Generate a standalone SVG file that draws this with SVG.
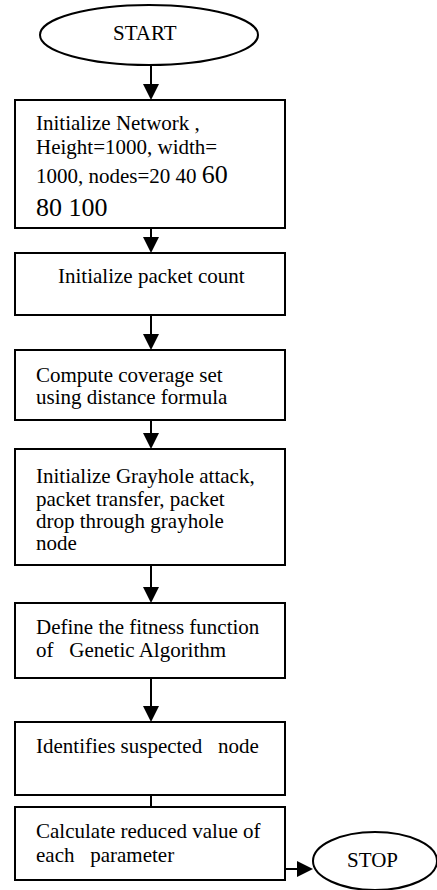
<svg xmlns="http://www.w3.org/2000/svg" width="437" height="890" viewBox="0 0 437 890">
<style>
.shape{fill:#fff;stroke:#000;stroke-width:2}
.edge{fill:none;stroke:#000;stroke-width:2}
text{font-family:"Liberation Serif","Times New Roman",serif;font-size:21px;fill:#000}
.big{font-size:26px}
</style>
<defs>
<marker id="arr" markerUnits="userSpaceOnUse" markerWidth="16" markerHeight="16" refX="14" refY="8" orient="auto">
<path d="M0,0 L16,8 L0,16 Z" fill="#000"/>
</marker>
</defs>
<rect width="437" height="890" fill="#fff"/>
<g id="connectors">
<line class="edge" x1="151" y1="65" x2="151" y2="98" marker-end="url(#arr)"/>
<line class="edge" x1="151" y1="228" x2="151" y2="251" marker-end="url(#arr)"/>
<line class="edge" x1="151" y1="315" x2="151" y2="348" marker-end="url(#arr)"/>
<line class="edge" x1="151" y1="420" x2="151" y2="447" marker-end="url(#arr)"/>
<line class="edge" x1="151" y1="565" x2="151" y2="601" marker-end="url(#arr)"/>
<line class="edge" x1="151" y1="678" x2="151" y2="720" marker-end="url(#arr)"/>
<line class="edge" x1="151" y1="795" x2="151" y2="807"/>
<line class="edge" x1="285" y1="869" x2="311" y2="869" marker-end="url(#arr)"/>
</g>
<g id="start">
<ellipse class="shape" cx="149" cy="35" rx="109" ry="30"/>
<text x="113" y="40">START</text>
</g>
<g id="init-network">
<rect class="shape" x="15" y="100" width="270" height="128"/>
<text x="36" y="130">Initialize Network ,</text>
<text x="36" y="154">Height=1000, width=</text>
<text x="36" y="183" xml:space="preserve">1000, nodes=20 40 <tspan class="big">60</tspan></text>
<text x="36" y="216" class="big">80 100</text>
</g>
<g id="init-packet">
<rect class="shape" x="15" y="253" width="270" height="62"/>
<text x="58" y="283">Initialize packet count</text>
</g>
<g id="coverage">
<rect class="shape" x="15" y="350" width="270" height="70"/>
<text x="36" y="382">Compute coverage set</text>
<text x="36" y="404">using distance formula</text>
</g>
<g id="grayhole">
<rect class="shape" x="15" y="449" width="270" height="116"/>
<text x="36" y="483">Initialize Grayhole attack,</text>
<text x="36" y="506">packet transfer, packet</text>
<text x="36" y="528">drop through grayhole</text>
<text x="36" y="550">node</text>
</g>
<g id="fitness">
<rect class="shape" x="15" y="603" width="270" height="75"/>
<text x="36" y="634">Define the fitness function</text>
<text x="36" y="657" xml:space="preserve">of   Genetic Algorithm</text>
</g>
<g id="identify">
<rect class="shape" x="15" y="722" width="270" height="73"/>
<text x="36" y="753" xml:space="preserve">Identifies suspected   node</text>
</g>
<g id="calculate">
<rect class="shape" x="15" y="807" width="270" height="73"/>
<text x="36" y="838">Calculate reduced value of</text>
<text x="36" y="862" xml:space="preserve">each   parameter</text>
</g>
<g id="stop">
<ellipse class="shape" cx="375" cy="861" rx="62" ry="29"/>
<text x="347" y="867">STOP</text>
</g>
</svg>
